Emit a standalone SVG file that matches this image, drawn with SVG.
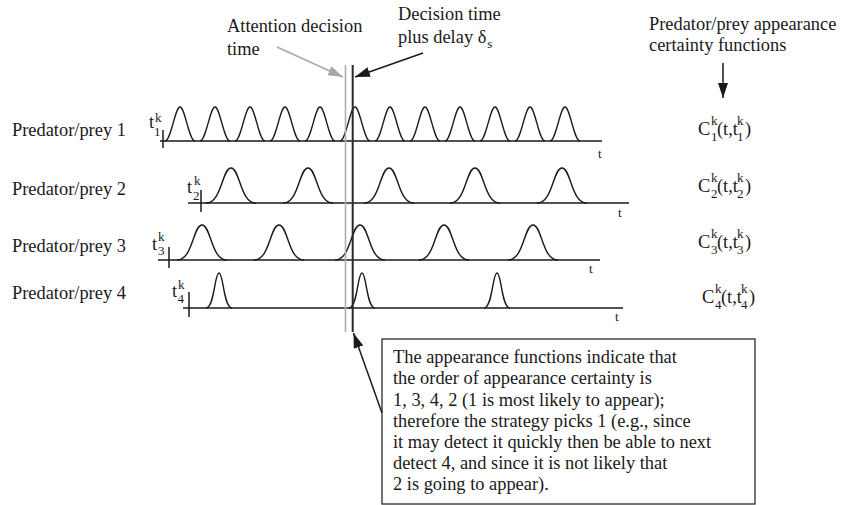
<svg xmlns="http://www.w3.org/2000/svg" width="848" height="505" viewBox="0 0 848 505" font-family="'Liberation Serif', 'Times New Roman', Times, 'DejaVu Serif', serif">
  <defs>
    <style>
      text { font-family: 'Liberation Serif', 'Times New Roman', Times, 'DejaVu Serif', serif; fill: #1a1a1a; }
      .lb { font-size: 18.4px; }
      .sm { font-size: 13px; }
      .ax { stroke: #1a1a1a; stroke-width: 1.5; fill: none; }
      .pk { stroke: #1a1a1a; stroke-width: 1.4; fill: none; }
      .arrow { stroke: #1a1a1a; stroke-width: 1.5; fill: none; marker-end: url(#ah); }
      .arrow-gray { stroke: #a8a8a8; stroke-width: 1.5; fill: none; marker-end: url(#ahg); }
    </style>
    <marker id="ah" markerUnits="userSpaceOnUse" markerWidth="16" markerHeight="11" refX="15" refY="5" orient="auto">
      <path d="M0,0 L15,5 L0,10 z" fill="#1a1a1a"/>
    </marker>
    <marker id="ahg" markerUnits="userSpaceOnUse" markerWidth="16" markerHeight="11" refX="15" refY="5" orient="auto">
      <path d="M0,0 L15,5 L0,10 z" fill="#a8a8a8"/>
    </marker>
    <!-- bell-shaped certainty bumps, origin at centre of base -->
    <path id="bumpNarrow" class="pk" d="M-15,0 c6,0 10,-34 15,-34 c5,0 9,34 15,34"/>
    <path id="bumpWide" class="pk" d="M-25,0 c16,0 16,-35 25,-35 c9,0 9,35 25,35"/>
    <path id="bumpSharp" class="pk" d="M-13,0 c8.5,0 8.5,-35 13,-35 c4.5,0 4.5,35 13,35"/>
  </defs>

  <rect width="848" height="505" fill="#ffffff"/>

  <!-- header labels -->
  <g id="label-attention">
    <text class="lb" x="227" y="32">Attention decision</text>
    <text class="lb" x="227" y="55">time</text>
  </g>
  <g id="label-decision">
    <text class="lb" x="398" y="20">Decision time</text>
    <text class="lb" x="398" y="43">plus delay δ<tspan class="sm" dx="1" dy="5">s</tspan></text>
  </g>
  <g id="label-certainty">
    <text class="lb" x="649" y="30">Predator/prey appearance</text>
    <text class="lb" x="649" y="51">certainty functions</text>
  </g>

  <!-- row 1 -->
  <g id="row1">
    <text class="lb" x="12" y="136">Predator/prey 1</text>
    <line class="ax" x1="160" y1="141" x2="602" y2="141"/>
    <line class="ax" x1="163" y1="130" x2="163" y2="148"/>
    <text class="lb" x="149" y="128">t</text>
    <text class="sm" x="155" y="122">k</text>
    <text class="sm" x="154" y="136">1</text>
    <use href="#bumpNarrow" x="180" y="141"/>
    <use href="#bumpNarrow" x="215" y="141"/>
    <use href="#bumpNarrow" x="250" y="141"/>
    <use href="#bumpNarrow" x="285" y="141"/>
    <use href="#bumpNarrow" x="320" y="141"/>
    <use href="#bumpNarrow" x="355" y="141"/>
    <use href="#bumpNarrow" x="390" y="141"/>
    <use href="#bumpNarrow" x="425" y="141"/>
    <use href="#bumpNarrow" x="460" y="141"/>
    <use href="#bumpNarrow" x="495" y="141"/>
    <use href="#bumpNarrow" x="530" y="141"/>
    <use href="#bumpNarrow" x="565" y="141"/>
    <text class="sm" x="598" y="158">t</text>
    <text class="lb" y="135"><tspan x="698">C</tspan><tspan class="sm" x="711" y="125">k</tspan><tspan class="sm" x="711" y="141">1</tspan><tspan x="717" y="135">(t,t</tspan><tspan class="sm" x="737" y="125">k</tspan><tspan class="sm" x="737" y="141">1</tspan><tspan x="745" y="135">)</tspan></text>
  </g>

  <!-- row 2 -->
  <g id="row2">
    <text class="lb" x="12" y="195">Predator/prey 2</text>
    <line class="ax" x1="188" y1="203" x2="629" y2="203"/>
    <line class="ax" x1="201" y1="190" x2="201" y2="212"/>
    <text class="lb" x="187" y="193">t</text>
    <text class="sm" x="194" y="185">k</text>
    <text class="sm" x="193" y="200">2</text>
    <use href="#bumpWide" x="231" y="203"/>
    <use href="#bumpWide" x="308" y="203"/>
    <use href="#bumpWide" x="389" y="203"/>
    <use href="#bumpWide" x="475" y="203"/>
    <use href="#bumpWide" x="562" y="203"/>
    <text class="sm" x="618" y="217">t</text>
    <text class="lb" y="192"><tspan x="698">C</tspan><tspan class="sm" x="711" y="182">k</tspan><tspan class="sm" x="711" y="198">2</tspan><tspan x="717" y="192">(t,t</tspan><tspan class="sm" x="737" y="182">k</tspan><tspan class="sm" x="737" y="198">2</tspan><tspan x="745" y="192">)</tspan></text>
  </g>

  <!-- row 3 -->
  <g id="row3">
    <text class="lb" x="12" y="252">Predator/prey 3</text>
    <line class="ax" x1="158" y1="260" x2="600" y2="260"/>
    <line class="ax" x1="169" y1="247" x2="169" y2="268"/>
    <text class="lb" x="152" y="250">t</text>
    <text class="sm" x="158" y="241">k</text>
    <text class="sm" x="158" y="255">3</text>
    <use href="#bumpWide" x="202" y="260"/>
    <use href="#bumpWide" x="279" y="260"/>
    <use href="#bumpWide" x="360" y="260"/>
    <use href="#bumpWide" x="444" y="260"/>
    <use href="#bumpWide" x="533" y="260"/>
    <text class="sm" x="589" y="273">t</text>
    <text class="lb" y="248"><tspan x="698">C</tspan><tspan class="sm" x="711" y="238">k</tspan><tspan class="sm" x="711" y="254">3</tspan><tspan x="717" y="248">(t,t</tspan><tspan class="sm" x="737" y="238">k</tspan><tspan class="sm" x="737" y="254">3</tspan><tspan x="745" y="248">)</tspan></text>
  </g>

  <!-- row 4 -->
  <g id="row4">
    <text class="lb" x="12" y="299">Predator/prey 4</text>
    <line class="ax" x1="183" y1="308" x2="623" y2="308"/>
    <line class="ax" x1="189" y1="292" x2="189" y2="317"/>
    <text class="lb" x="172" y="297">t</text>
    <text class="sm" x="178" y="289">k</text>
    <text class="sm" x="177.5" y="303">4</text>
    <use href="#bumpSharp" x="219" y="308"/>
    <use href="#bumpSharp" x="362" y="308"/>
    <use href="#bumpSharp" x="497" y="308"/>
    <text class="sm" x="615" y="321">t</text>
    <text class="lb" y="303"><tspan x="702">C</tspan><tspan class="sm" x="715" y="293">k</tspan><tspan class="sm" x="715" y="309">4</tspan><tspan x="721" y="303">(t,t</tspan><tspan class="sm" x="741" y="293">k</tspan><tspan class="sm" x="741" y="309">4</tspan><tspan x="749" y="303">)</tspan></text>
  </g>

  <!-- decision time markers -->
  <g id="decision-lines">
    <line x1="345.5" y1="65" x2="345.5" y2="332" stroke="#b0b0b0" stroke-width="1.6"/>
    <line x1="352.7" y1="65" x2="352.7" y2="332" stroke="#2a2a2a" stroke-width="2"/>
  </g>

  <!-- explanatory note -->
  <g id="note">
    <rect x="382" y="339" width="373" height="165" fill="#ffffff" stroke="#2a2a2a" stroke-width="1.3"/>
    <text class="lb" x="393" y="363">The appearance functions indicate that</text>
    <text class="lb" x="393" y="384">the order of appearance certainty is</text>
    <text class="lb" x="393" y="405.5">1, 3, 4, 2 (1 is most likely to appear);</text>
    <text class="lb" x="393" y="426.5">therefore the strategy picks 1 (e.g., since</text>
    <text class="lb" x="393" y="447.5">it may detect it quickly then be able to next</text>
    <text class="lb" x="393" y="468.5">detect 4, and since it is not likely that</text>
    <text class="lb" x="393" y="489.5">2 is going to appear).</text>
  </g>

  <!-- connectors -->
  <g id="connectors">
    <line class="arrow-gray" x1="277" y1="47" x2="343" y2="77"/>
    <line class="arrow" x1="423" y1="53" x2="355" y2="77"/>
    <line class="arrow" x1="723" y1="63" x2="723" y2="98"/>
    <line class="arrow" x1="382" y1="413" x2="353.5" y2="333"/>
  </g>
</svg>
